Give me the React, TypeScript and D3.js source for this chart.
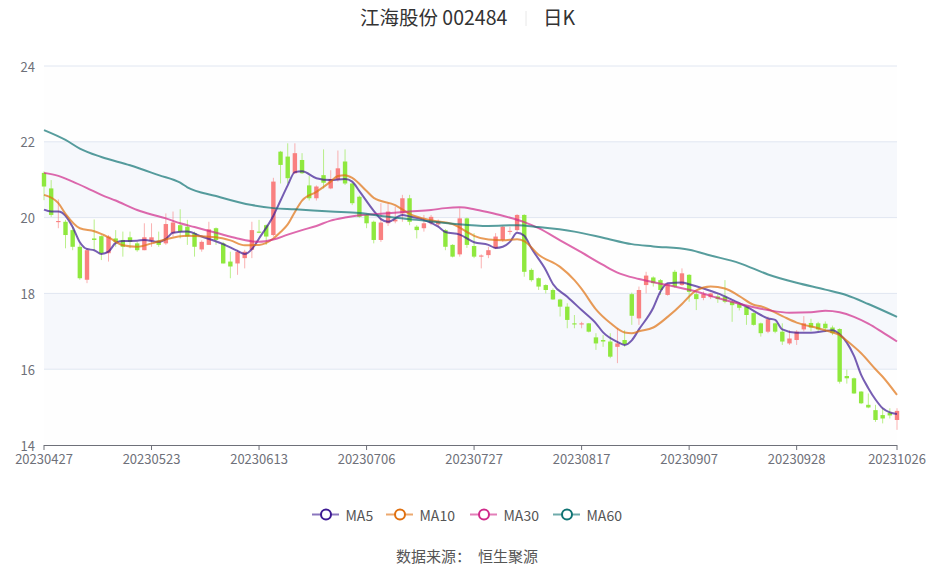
import React from 'react';
import * as d3 from 'd3';

const dates = [
  '20230427','20230428',
  '20230504','20230505','20230508','20230509','20230510','20230511','20230512','20230515','20230516','20230517','20230518','20230519','20230522','20230523','20230524','20230525','20230526','20230529','20230530','20230531',
  '20230601','20230602','20230605','20230606','20230607','20230608','20230609','20230612','20230613','20230614','20230615','20230616','20230619','20230620','20230621','20230626','20230627','20230628','20230629','20230630',
  '20230703','20230704','20230705','20230706','20230707','20230710','20230711','20230712','20230713','20230714','20230717','20230718','20230719','20230720','20230721','20230724','20230725','20230726','20230727','20230728','20230731',
  '20230801','20230802','20230803','20230804','20230807','20230808','20230809','20230810','20230811','20230814','20230815','20230816','20230817','20230818','20230821','20230822','20230823','20230824','20230825','20230828','20230829','20230830','20230831',
  '20230901','20230904','20230905','20230906','20230907','20230908','20230911','20230912','20230913','20230914','20230915','20230918','20230919','20230920','20230921','20230922','20230925','20230926','20230927','20230928',
  '20231009','20231010','20231011','20231012','20231013','20231016','20231017','20231018','20231019','20231020','20231023','20231024','20231025','20231026',
];

const openP = [
  21.18,20.77,19.88,19.89,19.67,19.23,18.36,19.45,19.51,19.06,
  19.45,19.41,19.48,19.32,19.14,19.39,19.39,19.32,19.59,19.80,
  19.76,19.59,19.16,19.28,19.72,19.32,18.84,18.79,18.93,19.15,
  19.63,19.80,19.54,21.74,21.61,21.17,21.52,20.85,20.51,21.12,
  20.77,21.00,21.48,20.90,20.55,20.07,19.89,19.41,19.85,19.90,
  20.11,20.51,19.76,19.72,19.85,19.82,19.67,19.28,19.03,19.98,
  19.25,18.97,19.01,19.19,19.41,19.63,19.67,20.07,18.62,18.40,
  18.22,18.09,17.84,17.65,17.21,17.18,17.21,16.84,16.77,16.73,
  16.59,16.77,17.98,17.34,18.22,18.42,18.35,17.96,18.57,18.22,
  18.49,17.98,17.88,17.90,17.92,17.91,17.78,17.72,17.64,17.48,
  17.21,16.99,17.21,16.99,16.68,16.77,17.05,17.22,17.21,17.20,
  17.10,17.06,15.82,15.76,15.41,15.06,14.92,14.79,14.85,14.66,
];
const closeP = [
  20.82,20.07,19.91,19.54,19.23,18.40,19.14,19.41,19.06,19.50,
  19.36,19.23,19.36,19.14,19.48,19.48,19.28,19.83,19.87,19.63,
  19.50,19.23,19.36,19.69,19.41,18.79,18.71,19.10,19.10,19.67,
  19.60,19.50,20.95,21.39,21.04,21.70,21.17,20.51,20.82,20.92,
  21.02,21.30,20.90,20.38,20.02,19.85,19.41,19.87,20.16,19.95,
  20.51,19.89,19.67,19.85,20.02,19.90,19.23,18.97,19.98,19.28,
  18.97,19.00,19.14,19.50,19.76,19.65,20.07,18.57,18.35,18.18,
  18.09,17.84,17.65,17.30,17.18,17.21,16.99,16.68,16.73,16.33,
  16.68,16.66,17.41,18.09,18.47,18.27,18.09,18.24,18.18,18.53,
  18.04,17.85,17.98,18.00,17.85,17.78,17.69,17.62,17.43,17.17,
  16.95,17.32,16.99,16.73,16.81,16.99,17.21,17.10,17.05,17.08,
  16.95,15.67,15.76,15.36,15.10,14.99,14.66,14.70,14.78,14.90,
];
const lowP = [
  20.46,20.02,19.72,19.19,19.14,18.36,18.27,19.14,18.88,18.84,
  19.23,18.97,19.19,19.10,19.14,19.23,19.23,19.28,19.50,19.45,
  19.28,18.97,19.10,19.28,19.28,18.79,18.40,18.49,18.66,18.93,
  19.59,19.28,19.50,20.90,20.90,21.15,21.15,20.45,20.45,20.77,
  20.75,20.95,20.86,20.33,20.00,19.72,19.32,19.36,19.78,19.85,
  19.89,19.80,19.45,19.63,19.80,19.76,19.14,18.95,18.97,19.20,
  18.93,18.66,18.93,19.17,19.36,19.55,19.63,18.44,18.31,18.09,
  18.00,17.83,17.39,17.08,17.08,17.08,16.97,16.51,16.59,16.29,
  16.16,16.59,17.17,17.17,18.00,18.18,17.96,17.94,18.15,18.20,
  17.78,17.56,17.82,17.85,17.75,17.74,17.25,17.55,17.17,17.15,
  16.86,16.95,16.95,16.64,16.64,16.64,17.00,17.00,17.00,16.98,
  16.90,15.62,15.62,15.35,15.08,14.97,14.61,14.57,14.70,14.40,
];
const highP = [
  21.22,20.99,20.48,19.94,19.76,19.32,19.19,19.95,19.53,19.54,
  19.67,19.63,19.63,19.36,19.85,19.85,19.63,20.11,20.16,20.22,
  19.94,19.63,19.40,19.89,19.74,19.36,19.10,19.15,19.15,19.89,
  19.94,19.82,21.05,21.76,21.96,21.96,21.70,21.10,20.85,21.80,
  21.25,21.77,21.80,20.92,20.58,20.10,19.92,20.38,20.38,20.29,
  20.60,20.60,19.80,20.07,20.07,19.95,19.70,19.30,20.25,20.00,
  19.59,19.03,19.23,19.59,19.78,19.76,20.09,20.09,18.66,18.42,
  18.24,18.13,17.86,17.74,17.43,17.25,17.22,16.95,16.90,16.95,
  17.08,17.03,18.02,18.18,18.57,18.45,18.38,18.27,18.62,18.66,
  18.51,18.05,18.05,18.02,17.98,18.35,17.80,17.75,17.66,17.50,
  17.23,17.39,17.23,17.21,17.03,17.03,17.40,17.33,17.25,17.26,
  17.15,17.08,15.99,15.78,15.42,15.36,15.06,14.97,14.97,14.97,
];

// moving averages at the listed trading-day indexes
const ma5Days = [0,1,2,3,4,5,6,7,8,9,10,11,13,14,16,17,18,20,22,25,27,28,29,30,32,33,34,35,36,38,40,42,43,44,46,47,48,50,51,53,55,56,58,60,62,63,64,65,66,67,68,70,71,73,75,77,78,80,81,82,83,85,86,87,89,90,92,94,96,98,100,101,102,103,105,107,109,110,111,112,113,114,115,116,117,118,119];
const ma5Vals = [20.21,20.16,20.16,20.05,19.75,19.35,19.17,19.14,19.04,19.10,19.33,19.38,19.39,19.41,19.36,19.44,19.60,19.63,19.50,19.30,19.12,19.04,19.17,19.45,20.05,20.45,20.85,21.20,21.22,21.04,20.99,21.02,20.95,20.70,20.18,19.96,19.89,20.07,20.03,19.94,19.76,19.62,19.55,19.35,19.28,19.20,19.23,19.36,19.60,19.52,19.19,18.62,18.25,17.91,17.56,17.21,16.97,16.72,16.64,16.76,17.05,17.62,18.05,18.27,18.29,18.24,18.13,18.00,17.83,17.65,17.43,17.34,17.30,17.05,16.96,16.96,17.01,17.03,16.92,16.70,16.35,15.85,15.50,15.20,14.97,14.86,14.82];

const ma10Days = [0,2,3,5,7,9,11,13,15,17,20,24,26,28,30,32,33,34,35,36,38,40,41,42,43,45,46,49,51,54,57,59,60,62,64,66,67,69,72,74,75,77,79,81,82,83,85,87,89,90,91,93,95,97,99,100,103,105,108,110,111,112,114,116,117,119];
const ma10Vals = [20.60,20.38,20.10,19.72,19.64,19.48,19.27,19.23,19.32,19.43,19.52,19.48,19.40,19.27,19.28,19.45,19.62,19.82,20.15,20.45,20.68,20.95,21.10,21.12,21.05,20.70,20.52,20.33,20.10,19.93,19.83,19.62,19.52,19.42,19.40,19.43,19.38,19.02,18.70,18.35,18.12,17.58,17.22,16.97,16.95,17.00,17.10,17.38,17.72,17.92,18.08,18.18,18.13,17.93,17.70,17.66,17.40,17.23,17.08,16.97,16.90,16.75,16.42,16.00,15.80,15.32];

const ma30Days = [0,2,4,6,8,10,13,15,17,19,21,24,27,30,32,34,36,38,40,42,44,47,51,54,56,58,60,62,64,67,69,72,75,78,80,83,87,91,94,98,101,104,107,109,111,113,115,117,119];
const ma30Vals = [21.18,21.10,20.95,20.78,20.60,20.45,20.20,20.08,19.98,19.85,19.75,19.60,19.45,19.36,19.42,19.55,19.67,19.78,19.92,20.00,20.06,20.10,20.16,20.20,20.25,20.27,20.22,20.14,20.05,19.88,19.72,19.40,19.08,18.75,18.55,18.38,18.22,18.05,17.88,17.68,17.56,17.49,17.50,17.54,17.50,17.38,17.20,16.97,16.73];

const ma60Days = [0,3,5,8,12,16,19,20,24,29,32,35,40,44,48,52,57,62,66,69,74,78,82,85,90,93,97,101,105,109,112,115,119];
const ma60Vals = [22.31,22.05,21.82,21.60,21.38,21.12,20.92,20.80,20.57,20.33,20.25,20.22,20.16,20.12,20.02,19.94,19.84,19.78,19.80,19.75,19.63,19.47,19.30,19.24,19.15,19.00,18.80,18.50,18.28,18.10,17.95,17.72,17.38];

const yTicks = [14, 16, 18, 20, 22, 24];
const xTickLabels = ['20230427','20230523','20230613','20230706','20230727','20230817','20230907','20230928','20231026'];

const maSeries = [
  { name: 'MA5', days: ma5Days, vals: ma5Vals, color: '#3d1a93' },
  { name: 'MA10', days: ma10Days, vals: ma10Vals, color: '#e0700f' },
  { name: 'MA30', days: ma30Days, vals: ma30Vals, color: '#d02a8a' },
  { name: 'MA60', days: ma60Days, vals: ma60Vals, color: '#0f7373' },
];

const legendX = [326, 400, 484, 567];

const FONT = "'Noto Sans CJK SC','Noto Sans',sans-serif";
const UP = '#f98080';
const DOWN = '#8fe83e';

export default function App() {
  const W = 935, H = 569;
  const left = 44, right = 897, top = 66, bottom = 445;
  const x = d3.scalePoint<string>().domain(dates).range([left, right]);
  const y = d3.scaleLinear().domain([14, 24]).range([bottom, top]);
  const bw = 4.4;

  const bands = yTicks.slice(0, -1).map((t, i) => ({ lo: t, hi: yTicks[i + 1], i }));

  const line = d3
    .line<[number, number]>()
    .x((d) => x(dates[d[0]]) as number)
    .y((d) => y(d[1]))
    .curve(d3.curveMonotoneX);

  return (
    <svg width={W} height={H} style={{ position: 'absolute', left: 0, top: 0, background: '#fff' }} fontFamily={FONT}>
      <rect x={0} y={0} width={W} height={H} fill="#fff" />
      {/* title */}
      <text x={360} y={25} fontSize={19.5} fill="#333">江海股份 002484</text>
      <line x1={526} x2={526} y1={11} y2={26} stroke="#e8e8e8" strokeWidth={1} />
      <text x={543} y={25} fontSize={19.5} fill="#333">日K</text>

      {/* split areas */}
      {bands.map((b) => (
        <rect
          key={b.i}
          x={left}
          width={right - left}
          y={y(b.hi)}
          height={y(b.lo) - y(b.hi)}
          fill={b.i % 2 === 1 ? '#f6f8fc' : '#fefefe'}
        />
      ))}
      {/* grid */}
      {yTicks.slice(1).map((t) => (
        <line key={t} x1={left} x2={right} y1={y(t)} y2={y(t)} stroke="#E0E6F1" strokeWidth={1} />
      ))}
      {/* y labels */}
      {yTicks.map((t) => (
        <text key={t} x={35} y={y(t)} textAnchor="end" dominantBaseline="central" fontSize={13} fill="#6E7079">
          {t}
        </text>
      ))}
      {/* x axis */}
      <line x1={left} x2={right} y1={bottom + 0.5} y2={bottom + 0.5} stroke="#6E7079" strokeWidth={1} />
      {xTickLabels.map((d) => (
        <g key={d}>
          <line x1={x(d)} x2={x(d)} y1={bottom} y2={bottom + 5} stroke="#6E7079" strokeWidth={1} />
          <text x={x(d)} y={458} textAnchor="middle" dominantBaseline="central" fontSize={13} fill="#6E7079">
            {d}
          </text>
        </g>
      ))}

      {/* candles */}
      {dates.map((d, i) => {
        const o = openP[i], c = closeP[i], lo = lowP[i], hi = highP[i];
        const up = c >= o;
        const col = up ? UP : DOWN;
        const cx = x(d) as number;
        const yTop = y(Math.max(o, c));
        const yBot = y(Math.min(o, c));
        return (
          <g key={d}>
            <line x1={cx} x2={cx} y1={y(hi)} y2={y(lo)} stroke={col} strokeWidth={1} opacity={0.6} />
            <rect x={cx - bw / 2} y={yTop} width={bw} height={Math.max(1, yBot - yTop)} fill={col} />
          </g>
        );
      })}

      {/* moving averages */}
      {maSeries.map((s) => (
        <path
          key={s.name}
          d={line(s.days.map((dd, k) => [dd, s.vals[k]] as [number, number])) || ''}
          fill="none"
          stroke={s.color}
          strokeOpacity={0.7}
          strokeWidth={2}
        />
      ))}

      {/* legend */}
      {maSeries.map((s, k) => {
        const cx = legendX[k];
        return (
          <g key={s.name}>
            <line x1={cx - 14} x2={cx + 13} y1={514.5} y2={514.5} stroke={s.color} strokeOpacity={0.6} strokeWidth={2} />
            <circle cx={cx} cy={514.5} r={5} fill="#fff" stroke={s.color} strokeWidth={2} />
            <text x={cx + 19.5} y={515} dominantBaseline="central" fontSize={14} fill="#555">
              {s.name}
            </text>
          </g>
        );
      })}

      {/* footer */}
      <text x={396} y={562} fontSize={15} fill="#555">数据来源：</text>
      <text x={478} y={562} fontSize={15} fill="#555">恒生聚源</text>
    </svg>
  );
}
